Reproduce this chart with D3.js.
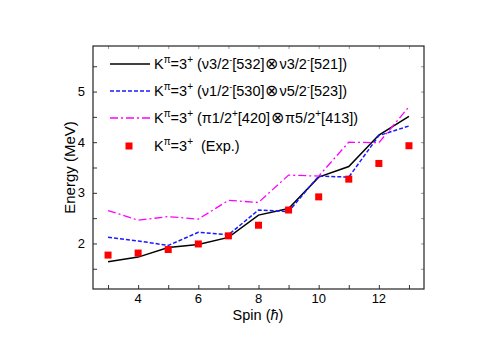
<!DOCTYPE html>
<html><head><meta charset="utf-8">
<script src="https://cdn.jsdelivr.net/npm/d3@7"></script>
<style>body{margin:0;background:#fff}svg{display:block}text{font-family:"Liberation Sans",Arial,sans-serif}</style>
</head><body>
<script>
const spins = [3,4,5,6,7,8,9,10,11,12,13];
const calcNu1 = [1.64,1.73,1.92,1.98,2.12,2.56,2.69,3.31,3.52,4.14,4.51];
const calcNu2 = [2.12,2.05,1.96,2.22,2.17,2.66,2.63,3.33,3.31,4.13,4.32];
const calcPi  = [2.65,2.46,2.53,2.48,2.85,2.81,3.35,3.33,4.00,3.99,4.70];
const expVals = [1.77,1.81,1.88,1.99,2.15,2.36,2.66,2.92,3.27,3.58,3.93];
const xTickLabels = [4,6,8,10,12];
const yTickLabels = [2,3,4,5];

const W=499,H=353;
const L=93,R=424,T=46,B=289;
const svg=d3.select("body").append("svg").attr("width",W).attr("height",H);
const x=d3.scaleLinear().domain([2.5,13.5]).range([L,R]);
const y=d3.scaleLinear().domain([1.1,5.9]).range([B,T]);

const minorX=d3.range(3,14,1), minorY=d3.range(1.5,6,0.5);
svg.append("g").attr("transform",`translate(0,${B})`)
  .call(d3.axisBottom(x).tickValues(minorX).tickSizeInner(-4).tickSizeOuter(0).tickFormat(""))
  .call(g=>g.select(".domain").remove()).selectAll("line").attr("stroke","#333");
svg.append("g").attr("transform",`translate(0,${T})`)
  .call(d3.axisTop(x).tickValues(minorX).tickSizeInner(-3).tickSizeOuter(0).tickFormat(""))
  .call(g=>g.select(".domain").remove()).selectAll("line").attr("stroke","#999");
svg.append("g").attr("transform",`translate(${L},0)`)
  .call(d3.axisLeft(y).tickValues(minorY).tickSizeInner(-4).tickSizeOuter(0).tickFormat(""))
  .call(g=>g.select(".domain").remove()).selectAll("line").attr("stroke","#333");
svg.append("g").attr("transform",`translate(${R},0)`)
  .call(d3.axisRight(y).tickValues(minorY).tickSizeInner(-3).tickSizeOuter(0).tickFormat(""))
  .call(g=>g.select(".domain").remove()).selectAll("line").attr("stroke","#999");

svg.append("rect").attr("x",L).attr("y",T).attr("width",R-L).attr("height",B-T)
  .attr("fill","none").attr("stroke","#222").attr("stroke-width",1.2);

svg.selectAll(".xl").data(xTickLabels).enter().append("text")
  .attr("x",d=>x(d)).attr("y",B+14).attr("text-anchor","middle").attr("font-size",13).text(d=>d);
svg.selectAll(".yl").data(yTickLabels).enter().append("text")
  .attr("x",L-8).attr("y",d=>y(d)+4.5).attr("text-anchor","end").attr("font-size",13).text(d=>d);

svg.append("text").attr("x",258).attr("y",320).attr("text-anchor","middle").attr("font-size",14.5)
  .html('Spin (<tspan font-style="italic">ħ</tspan>)');
svg.append("text").attr("transform",`translate(75,${(T+B)/2}) rotate(-90)`).attr("text-anchor","middle").attr("font-size",15)
  .text("Energy (MeV)");

const line=d3.line().x((d,i)=>x(spins[i])).y(d=>y(d));
const series=[
  {v:calcNu1,c:"#000",dash:null,w:1.5},
  {v:calcNu2,c:"#1a1aff",dash:"4,2",w:1.5},
  {v:calcPi,c:"#ff00ff",dash:"8,3,2,3",w:1.3}
];
series.forEach(s=>{
  svg.append("path").datum(s.v).attr("d",line).attr("fill","none").attr("stroke",s.c)
    .attr("stroke-width",s.w).attr("stroke-dasharray",s.dash);
});
const sq=7;
svg.selectAll(".exp").data(expVals).enter().append("rect")
  .attr("x",(d,i)=>x(spins[i])-sq/2).attr("y",d=>y(d)-sq/2).attr("width",sq).attr("height",sq).attr("fill","#ff0000");

const OT='<tspan font-size="16" dx="1">⊗</tspan><tspan dx="1">';
const lg=[
  {y:64,type:"line",c:"#000",dash:null,html:'K<tspan dy="-6" font-size="10">π</tspan><tspan dy="6">=3</tspan><tspan dy="-6" font-size="10">+</tspan><tspan dy="6"> (ν3/2</tspan><tspan dy="-6" font-size="9">-</tspan><tspan dy="6">[532]</tspan>'+OT+'ν3/2</tspan><tspan dy="-6" font-size="9">-</tspan><tspan dy="6">[521])</tspan>'},
  {y:91,type:"line",c:"#1a1aff",dash:"4,2",html:'K<tspan dy="-6" font-size="10">π</tspan><tspan dy="6">=3</tspan><tspan dy="-6" font-size="10">+</tspan><tspan dy="6"> (ν1/2</tspan><tspan dy="-6" font-size="9">-</tspan><tspan dy="6">[530]</tspan>'+OT+'ν5/2</tspan><tspan dy="-6" font-size="9">-</tspan><tspan dy="6">[523])</tspan>'},
  {y:118,type:"line",c:"#ff00ff",dash:"8,3,2,3",html:'K<tspan dy="-6" font-size="10">π</tspan><tspan dy="6">=3</tspan><tspan dy="-6" font-size="10">+</tspan><tspan dy="6"> (π1/2</tspan><tspan dy="-6" font-size="10">+</tspan><tspan dy="6">[420]</tspan>'+OT+'π5/2</tspan><tspan dy="-6" font-size="10">+</tspan><tspan dy="6">[413])</tspan>'},
  {y:146,type:"sq",c:"#ff0000",html:'K<tspan dy="-6" font-size="10">π</tspan><tspan dy="6">=3</tspan><tspan dy="-6" font-size="10">+</tspan><tspan dy="6">  (Exp.)</tspan>'}
];
lg.forEach(l=>{
  if(l.type==="line"){
    svg.append("line").attr("x1",110).attr("x2",150).attr("y1",l.y).attr("y2",l.y)
      .attr("stroke",l.c).attr("stroke-width",1.5).attr("stroke-dasharray",l.dash);
  } else {
    svg.append("rect").attr("x",129-sq/2).attr("y",l.y-sq/2).attr("width",sq).attr("height",sq).attr("fill",l.c);
  }
  svg.append("text").attr("x",154).attr("y",l.y+5).attr("font-size",14.5)
    .style("white-space","pre").html(l.html);
});
</script>
</body></html>
